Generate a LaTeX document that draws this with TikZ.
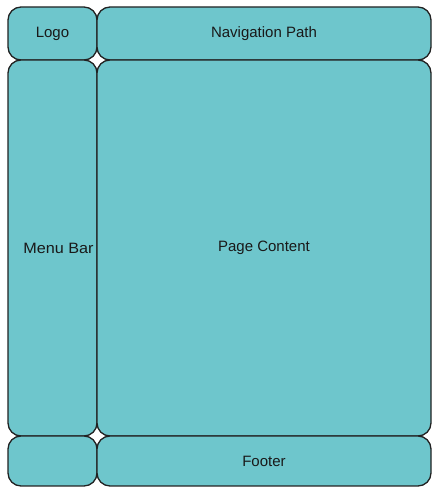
\documentclass[tikz,border=0pt]{standalone}
\usepackage{fontspec}
\setmainfont{Liberation Sans}
\definecolor{boxfill}{RGB}{110,198,204}
\definecolor{boxline}{RGB}{34,34,34}
\definecolor{txt}{RGB}{25,25,25}
\begin{document}
\begin{tikzpicture}[x=1pt,y=1pt,
  panel/.style={draw=boxline, fill=boxfill, line width=1.3pt, rounded corners=13pt,
    rectangle, inner sep=0pt, font=\fontsize{15}{18}\selectfont, text=txt}]
\useasboundingbox (0,0) rectangle (435,488);
\node[panel, minimum width=89pt, minimum height=53pt] (logo) at (52.5,454.5) {Logo};
\node[panel, minimum width=334pt, minimum height=53pt] (nav) at (264,454.5) {Navigation Path};
\node[panel, minimum width=89pt, minimum height=376pt] (menu) at (52.5,240) {\hspace*{12pt}\scalebox{1.08}[1]{Menu Bar}};
\node[panel, minimum width=334pt, minimum height=376pt] (content) at (264,240) {Page Content};
\node[panel, minimum width=89pt, minimum height=50pt] (blank) at (52.5,27) {};
\node[panel, minimum width=334pt, minimum height=50pt] (footer) at (264,27) {Footer};
\end{tikzpicture}
\end{document}
